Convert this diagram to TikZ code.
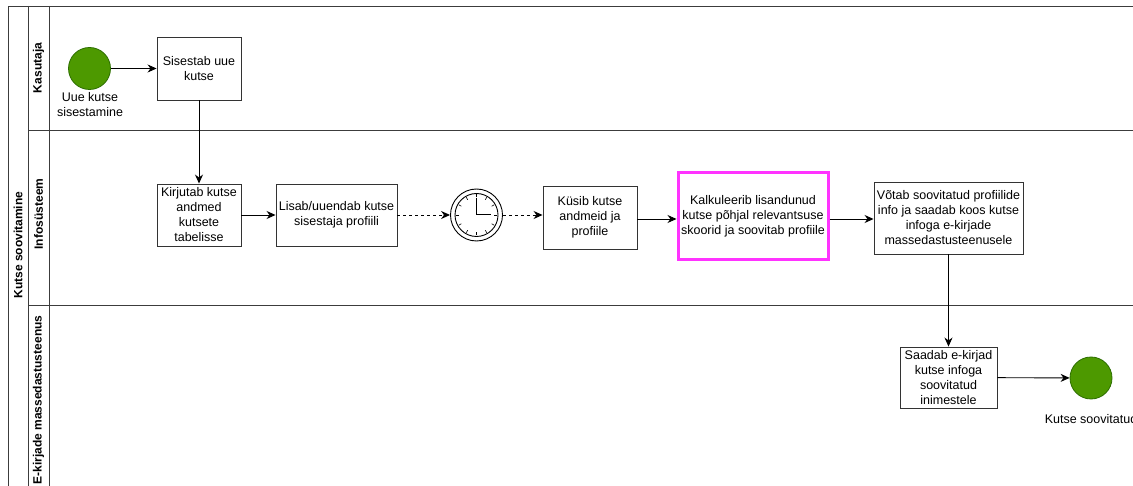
\documentclass[tikz,border=0pt]{standalone}
\usepackage{fontspec}
\setmainfont{Liberation Sans}
\usetikzlibrary{arrows.meta,calc}
\definecolor{evgreen}{RGB}{77,153,0}
\definecolor{evgreenline}{RGB}{45,110,0}
\definecolor{hilite}{RGB}{255,51,255}
\definecolor{laneline}{RGB}{60,60,60}
\tikzset{
  task/.style={draw=black!80, line width=0.9pt, fill=white, align=center, inner sep=2pt,
    font=\fontsize{12.5}{15}\selectfont},
  event/.style={circle, draw=evgreenline, fill=evgreen, line width=0.8pt, minimum size=42pt, inner sep=0pt},
  lbl/.style={align=center, font=\fontsize{12.5}{15}\selectfont},
  lanelbl/.style={rotate=90, font=\bfseries\fontsize{12}{14}\selectfont},
  flow/.style={draw=black, line width=0.9pt, -{Stealth[length=9pt,width=8pt]}},
  dflow/.style={flow, dash pattern=on 3pt off 3pt},
  lane/.style={draw=laneline, line width=0.9pt},
}
\begin{document}
\begin{tikzpicture}[x=1pt,y=-1pt]
\useasboundingbox (0,0) rectangle (1133,486);
\fill[white] (0,0) rectangle (1133,486);
% pool and lanes
\draw[lane] (1133,6) -- (8,6) -- (8,486);
\draw[lane] (28,6) -- (28,486);
\draw[lane] (49,6) -- (49,486);
\draw[lane] (28,130) -- (1133,130);
\draw[lane] (28,305) -- (1133,305);
\node[lanelbl] (pool) at (18,245) {Kutse soovitamine};
\node[lanelbl] (l1) at (38.5,68) {Kasutaja};
\node[lanelbl] (l2) at (38.5,214) {Infosüsteem};
\node[lanelbl] (l3) at (38.5,400) {E-kirjade massedastusteenus};
% nodes
\node[event] (start) at (89.5,68.5) {};
\node[lbl] (startlbl) at (90,105) {Uue kutse\\sisestamine};
\node[task, minimum width=84pt, minimum height=63pt] (t1) at (199,68.5) {Sisestab uue\\kutse};
\node[task, minimum width=84pt, minimum height=62pt] (t2) at (199,215) {Kirjutab kutse\\andmed\\kutsete\\tabelisse};
\node[task, minimum width=121pt, minimum height=62pt] (t3) at (336.5,215) {Lisab/uuendab kutse\\sisestaja profiili};
\node[circle, draw=black, line width=0.9pt, minimum size=52pt, inner sep=0pt] (clock) at (476.5,215) {};
\draw[line width=0.9pt] (clock.center) circle (21.5);
\foreach \a in {0,30,...,330}
  \draw[line width=0.6pt] ($(clock.center)+(\a:17.5)$) -- ($(clock.center)+(\a:20.5)$);
\draw[line width=1pt] (clock.center) -- ++(0,-17) (clock.center) -- ++(14,0);
\node[task, minimum width=94pt, minimum height=63pt] (t4) at (590,217.5) {Küsib kutse\\andmeid ja\\profiile};
\node[task, draw=hilite, line width=3pt, minimum width=150pt, minimum height=87pt] (t5) at (753,216.5) {Kalkuleerib lisandunud\\kutse põhjal relevantsuse\\skoorid ja soovitab profiile};
\node[task, minimum width=149pt, minimum height=72pt] (t6) at (948.5,218) {Võtab soovitatud profiilide\\info ja saadab koos kutse\\infoga e-kirjade\\massedastusteenusele};
\node[task, minimum width=97pt, minimum height=61pt] (t7) at (948.5,377.5) {Saadab e-kirjad\\kutse infoga\\soovitatud\\inimestele};
\node[event] (end) at (1091,378) {};
\node[lbl] (endlbl) at (1091,419) {Kutse soovitatud};
% flows
\draw[flow] (start) -- (t1);
\draw[flow] (t1) -- (t2);
\draw[flow] (t2) -- (t3);
\draw[dflow] (t3) -- (clock);
\draw[dflow] (clock) -- (clock -| t4.west);
\draw[flow] (t4.east |- 0,219) -- (t5.west |- 0,219);
\draw[flow] (t5.east |- 0,219) -- (t6.west |- 0,219);
\draw[flow] (t6) -- (t7);
\draw[flow] (t7) -- (end);
\end{tikzpicture}
\end{document}
